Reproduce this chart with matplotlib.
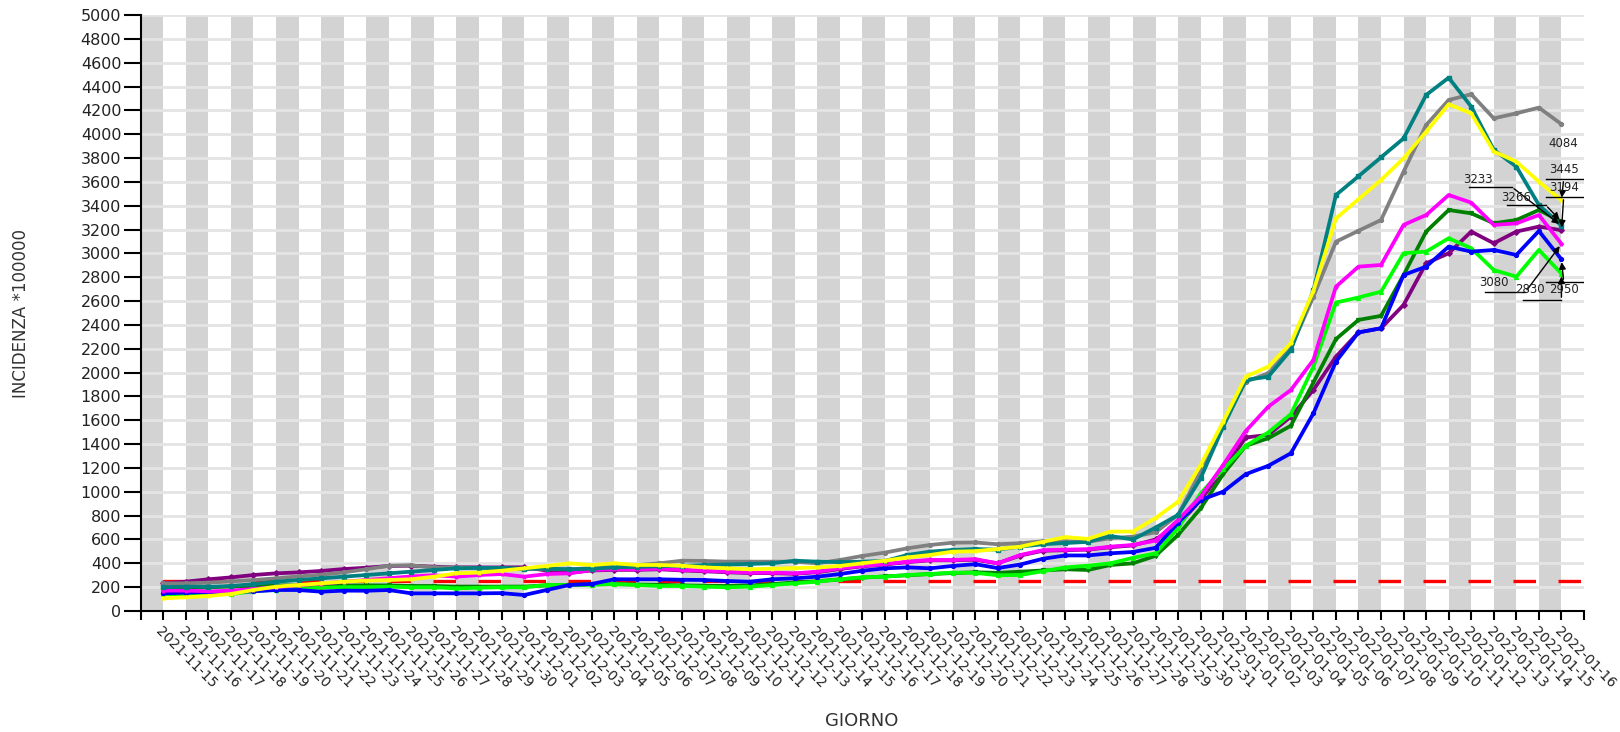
import matplotlib
matplotlib.use('Agg')
import matplotlib.pyplot as plt
import numpy as np

plt.rcParams['font.family'] = ['DejaVu Sans']
plt.rcParams['lines.scale_dashes'] = False

giorni = [
    '2021-11-15', '2021-11-16', '2021-11-17', '2021-11-18', '2021-11-19', '2021-11-20',
    '2021-11-21', '2021-11-22', '2021-11-23', '2021-11-24', '2021-11-25', '2021-11-26',
    '2021-11-27', '2021-11-28', '2021-11-29', '2021-11-30', '2021-12-01', '2021-12-02',
    '2021-12-03', '2021-12-04', '2021-12-05', '2021-12-06', '2021-12-07', '2021-12-08',
    '2021-12-09', '2021-12-10', '2021-12-11', '2021-12-12', '2021-12-13', '2021-12-14',
    '2021-12-15', '2021-12-16', '2021-12-17', '2021-12-18', '2021-12-19', '2021-12-20',
    '2021-12-21', '2021-12-22', '2021-12-23', '2021-12-24', '2021-12-25', '2021-12-26',
    '2021-12-27', '2021-12-28', '2021-12-29', '2021-12-30', '2021-12-31', '2022-01-01',
    '2022-01-02', '2022-01-03', '2022-01-04', '2022-01-05', '2022-01-06', '2022-01-07',
    '2022-01-08', '2022-01-09', '2022-01-10', '2022-01-11', '2022-01-12', '2022-01-13',
    '2022-01-14', '2022-01-15', '2022-01-16',
]

# incidenza per serie
viola = [232, 246, 266, 282, 302, 316, 324, 336, 352, 363, 378, 380, 372, 366, 366, 366, 366,
         340, 320, 340, 345, 345, 350, 340, 333, 325, 318, 318, 312, 325, 352, 375, 390, 410,
         425, 425, 430, 400, 465, 505, 510, 515, 535, 550, 600, 720, 931, 1183, 1456, 1477,
         1630, 1854, 2134, 2337, 2372, 2568, 2917, 3001, 3183, 3085, 3183, 3225, 3194]
verde_scuro = [200, 195, 200, 205, 210, 215, 215, 215, 215, 215, 215, 210, 210, 205, 205, 205, 205,
               215, 220, 225, 225, 222, 220, 215, 212, 210, 215, 225, 240, 250, 265, 280, 290, 300,
               310, 318, 325, 320, 330, 340, 350, 344, 386, 400, 463, 638, 861, 1148, 1386, 1449,
               1554, 1917, 2281, 2442, 2476, 2819, 3183, 3364, 3336, 3253, 3280, 3364, 3266]
verde = [140, 140, 145, 143, 165, 180, 190, 195, 200, 200, 204, 199, 199, 190, 195, 199, 199,
         218, 218, 220, 227, 218, 210, 210, 204, 199, 204, 218, 232, 246, 266, 283, 288, 302,
         310, 322, 320, 300, 302, 334, 366, 380, 400, 446, 484, 694, 987, 1190, 1386, 1498,
         1651, 2050, 2588, 2630, 2679, 3001, 3015, 3127, 3043, 2861, 2805, 3029, 2830]
blu = [148, 154, 158, 160, 165, 176, 176, 162, 171, 170, 176, 148, 148, 148, 148, 150, 134,
       176, 218, 227, 266, 266, 266, 262, 260, 252, 246, 266, 274, 288, 310, 338, 358, 366,
       358, 378, 393, 360, 390, 438, 466, 466, 484, 495, 530, 740, 931, 1001, 1148, 1218,
       1323, 1658, 2092, 2337, 2372, 2819, 2889, 3057, 3015, 3029, 2987, 3188, 2950]
magenta = [171, 171, 165, 170, 185, 200, 215, 230, 245, 260, 275, 290, 300, 288, 302, 310, 288,
           310, 316, 344, 350, 350, 355, 345, 338, 330, 322, 322, 316, 330, 358, 378, 394, 414,
           428, 428, 435, 400, 470, 510, 515, 518, 540, 554, 590, 764, 959, 1225, 1510, 1714,
           1854, 2106, 2721, 2889, 2903, 3239, 3322, 3490, 3426, 3239, 3252, 3322, 3080]
grigio = [232, 232, 238, 248, 260, 274, 290, 305, 324, 350, 380, 383, 366, 366, 358, 355, 350,
          355, 350, 360, 378, 386, 400, 422, 420, 414, 414, 414, 414, 400, 428, 462, 490, 526,
          554, 573, 575, 560, 568, 585, 585, 582, 610, 624, 660, 806, 1169, 1580, 1924, 1994,
          2204, 2637, 3098, 3190, 3280, 3686, 4077, 4287, 4335, 4133, 4175, 4223, 4084]
verde_acqua = [200, 204, 204, 210, 225, 246, 260, 274, 288, 302, 316, 330, 344, 358, 362, 362, 355,
               355, 350, 355, 366, 370, 375, 380, 385, 390, 395, 400, 422, 414, 410, 414, 420, 470,
               498, 512, 520, 515, 540, 560, 570, 580, 629, 600, 700, 806, 1113, 1546, 1938, 1966,
               2190, 2690, 3490, 3647, 3806, 3965, 4329, 4474, 4231, 3868, 3728, 3406, 3233]
giallo = [106, 115, 126, 143, 176, 204, 218, 232, 246, 255, 260, 266, 288, 316, 322, 338, 358,
          378, 400, 386, 400, 386, 386, 380, 366, 358, 350, 355, 360, 365, 378, 400, 422, 450,
          470, 498, 502, 520, 540, 580, 620, 605, 666, 666, 780, 917, 1225, 1588, 1966, 2050,
          2246, 2685, 3294, 3454, 3616, 3798, 4021, 4251, 4175, 3854, 3770, 3602, 3445]
soglia = 250

serie = [
    (viola, '#800080', 'D'),
    (verde_scuro, '#008000', 'v'),
    (verde, '#00ff00', '^'),
    (blu, '#0000ff', 'o'),
    (magenta, '#ff00ff', '*'),
    (grigio, '#808080', 'o'),
    (verde_acqua, '#008080', 's'),
    (giallo, '#ffff00', '*'),
]

# etichette finali: testo, serie, posizione testo, sottolineatura (x0, x1, y), partenza freccia
etichette = [
    ('4084', grigio, (62.1, 3926), None, None),
    ('3445', giallo, (62.1, 3700), (61.3, 63.1, 3624), (62.1, 3624)),
    ('3194', viola, (62.1, 3557), (61.3, 63.1, 3473), (62.1, 3473)),
    ('3233', verde_acqua, (58.3, 3624), (57.9, 59.8, 3557), (59.8, 3557)),
    ('3266', verde_scuro, (60.0, 3473), (59.6, 61.3, 3406), (61.3, 3406)),
    ('3080', magenta, (59.0, 2760), (58.6, 60.4, 2676), (60.4, 2676)),
    ('2830', verde, (60.6, 2693), (60.3, 62.0, 2609), (62.0, 2609)),
    ('2950', blu, (62.1, 2693), (61.3, 63.1, 2760), (62.1, 2760)),
]

W, H = 1620, 732
fig = plt.figure(figsize=(W / 100, H / 100), dpi=100)
ax = fig.add_axes([140.7 / W, 1 - 611 / H, (1584 - 140.7) / W, (611 - 15) / H])

n = len(giorni)
x = np.arange(n)
ax.set_xlim(-1, n)
ax.set_ylim(0, 5000)

# bande verticali alternate
for k in range(0, n // 2 + 1):
    ax.axvspan(2 * k - 1, 2 * k, color='#d3d3d3', lw=0, zorder=0)

ax.set_axisbelow(True)
ax.yaxis.grid(True, color='#e4e4e4', lw=2)

# soglia rossa tratteggiata
ax.plot(np.arange(n + 1), [soglia] * (n + 1), color='#ff0000', lw=2.4,
        dashes=(16.2, 16.2), zorder=2)

for i, (vals, col, mk) in enumerate(serie):
    ax.plot(x, vals, color=col, lw=2.7, marker=mk, markersize=2.8, zorder=3 + i * 0.1)

for testo, vals, pos, sotto, start in etichette:
    ax.text(pos[0], pos[1], testo, fontsize=8.5, ha='center', va='center', color='#222222', zorder=6)
    if sotto is not None:
        ax.plot([sotto[0], sotto[1]], [sotto[2], sotto[2]], color='black', lw=1, zorder=6)
        ax.annotate('', xy=(n - 1, vals[-1]), xytext=start,
                    arrowprops=dict(arrowstyle='-|>', color='black', lw=1, mutation_scale=10),
                    zorder=6)

ax.set_yticks(range(0, 5001, 200))
ax.set_xticks(range(-1, n + 1))
ax.set_xticklabels([''] + giorni + [''], rotation=-45, ha='left', va='top',
                   rotation_mode='anchor', fontsize=10, color='#222222')
ax.tick_params(axis='y', length=12, width=1.5, labelsize=11.5, labelcolor='#222222', pad=2)
ax.tick_params(axis='x', length=6.5, width=1.5, pad=3)

for s in ['top', 'right']:
    ax.spines[s].set_visible(False)
for s in ['left', 'bottom']:
    ax.spines[s].set_linewidth(1.5)

fig.text(21 / W, 1 - 313 / H, 'INCIDENZA *100000', rotation=90, ha='center', va='center',
         fontsize=12, color='#333333')
fig.text(862 / W, 1 - 721 / H, 'GIORNO', ha='center', va='center', fontsize=13, color='#333333')

fig.savefig('out.png', dpi=100)
